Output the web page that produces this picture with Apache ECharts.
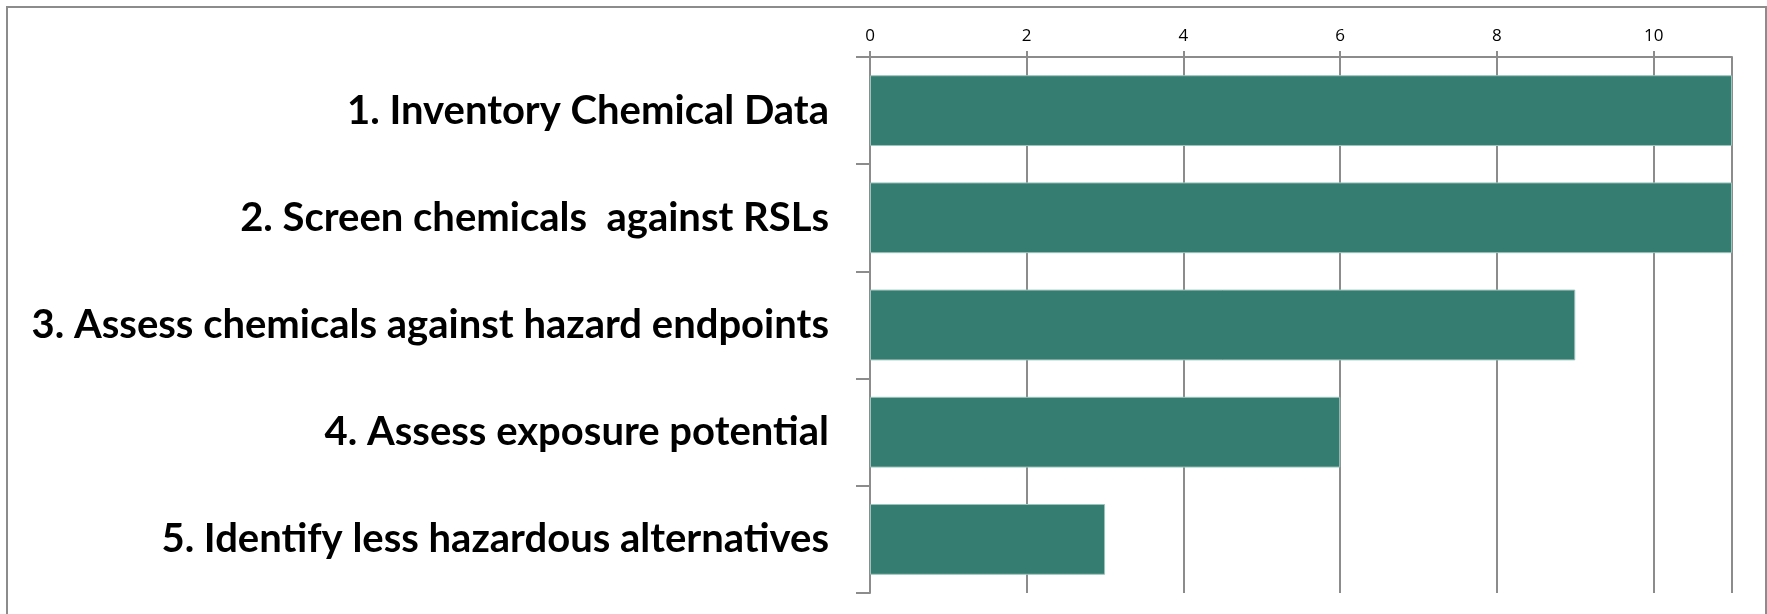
<!DOCTYPE html>
<html>
<head>
<meta charset="utf-8">
<script src="https://cdn.jsdelivr.net/npm/echarts@6/dist/echarts.min.js"></script>
<style>
html,body{margin:0;padding:0;background:#fff;}
#c{width:1767px;height:614px;}
</style>
</head>
<body>
<div id="c"></div>
<script>
var categories = [
  "1. Inventory Chemical Data",
  "2. Screen chemicals  against RSLs",
  "3. Assess chemicals against hazard endpoints",
  "4. Assess exposure potential",
  "5. Identify less hazardous alternatives"
];
var values = [11, 11, 9, 6, 3];

var chart = echarts.init(document.getElementById('c'), null, {renderer: 'canvas'});
var gray = '#8c8c8c';
chart.setOption({
  backgroundColor: '#fff',
  animation: false,
  graphic: [{
    type: 'rect',
    shape: {x: 7, y: 7, width: 1759, height: 640},
    style: {fill: 'none', stroke: gray, lineWidth: 2},
    silent: true
  }],
  grid: {left: 870, right: 35, top: 57, bottom: 21, containLabel: false},
  xAxis: {
    type: 'value',
    position: 'top',
    min: 0, max: 11, interval: 2,
    axisLine: {show: true, lineStyle: {color: gray, width: 2}},
    axisTick: {show: true, length: 6, lineStyle: {color: gray, width: 2}},
    axisLabel: {color: '#000', fontSize: 17, fontFamily: 'Open Sans', margin: 12, showMaxLabel: false},
    splitLine: {show: true, lineStyle: {color: gray, width: 2}}
  },
  yAxis: {
    type: 'category',
    inverse: true,
    data: categories,
    axisLine: {show: true, lineStyle: {color: gray, width: 2}},
    axisTick: {show: true, length: 14, interval: 0, lineStyle: {color: gray, width: 2}},
    axisLabel: {color: '#000', fontSize: 40, fontWeight: 'bold', fontFamily: 'Lato', margin: 41, interval: 0},
    splitLine: {show: false}
  },
  series: [{
    type: 'bar',
    data: values,
    barCategoryGap: '34%',
    itemStyle: {color: '#357d71', borderColor: '#9cc4bc', borderWidth: 1}
  }]
});
</script>
</body>
</html>
